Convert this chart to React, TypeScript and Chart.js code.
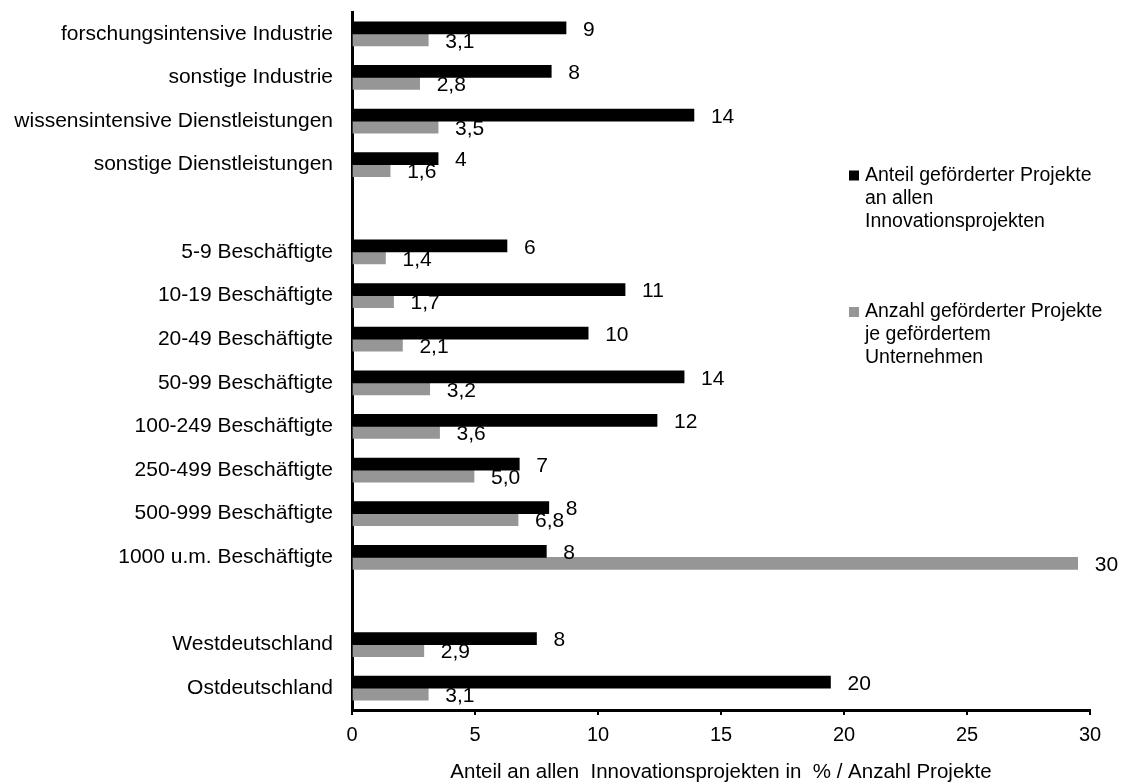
import React, { useEffect, useRef } from "react";
import { Chart, registerables } from "chart.js";

Chart.register(...registerables);

const FONT = '"Liberation Sans", Arial, Helvetica, sans-serif';

const categories: string[] = [
  "forschungsintensive Industrie",
  "sonstige Industrie",
  "wissensintensive Dienstleistungen",
  "sonstige Dienstleistungen",
  "",
  "5-9 Beschäftigte",
  "10-19 Beschäftigte",
  "20-49 Beschäftigte",
  "50-99 Beschäftigte",
  "100-249 Beschäftigte",
  "250-499 Beschäftigte",
  "500-999 Beschäftigte",
  "1000 u.m. Beschäftigte",
  "",
  "Westdeutschland",
  "Ostdeutschland",
];

// Anteil geförderter Projekte an allen Innovationsprojekten (%)
const shareValues: (number | null)[] = [
  8.7, 8.1, 13.9, 3.5, null, 6.3, 11.1, 9.6, 13.5, 12.4, 6.8, 8.0, 7.9, null, 7.5, 19.45,
];
const shareLabels: string[] = [
  "9", "8", "14", "4", "", "6", "11", "10", "14", "12", "7", "8", "8", "", "8", "20",
];

// Anzahl geförderter Projekte je gefördertem Unternehmen
const countValues: (number | null)[] = [
  3.1, 2.75, 3.5, 1.55, null, 1.36, 1.69, 2.05, 3.16, 3.56, 4.96, 6.75, 29.5, null, 2.92, 3.1,
];
const countLabels: string[] = [
  "3,1", "2,8", "3,5", "1,6", "", "1,4", "1,7", "2,1", "3,2", "3,6", "5,0", "6,8", "30", "", "2,9", "3,1",
];

const seriesNames: string[][] = [
  ["Anteil geförderter Projekte", "an allen", "Innovationsprojekten"],
  ["Anzahl geförderter Projekte", "je gefördertem", "Unternehmen"],
];

const xTitle = "Anteil an allen  Innovationsprojekten in  % / Anzahl Projekte";

const BLACK = "#000000";
const GREY = "#969696";

const valueLabelsPlugin = {
  id: "valueLabels",
  afterDatasetsDraw(chart: any) {
    const ctx = chart.ctx;
    ctx.save();
    ctx.font = `21px ${FONT}`;
    ctx.fillStyle = "#000";
    ctx.textAlign = "left";
    ctx.textBaseline = "middle";
    const allLabels = [shareLabels, countLabels];
    chart.data.datasets.forEach((ds: any, di: number) => {
      const meta = chart.getDatasetMeta(di);
      meta.data.forEach((el: any, i: number) => {
        if (ds.data[i] == null) return;
        ctx.fillText(allLabels[di][i], el.x + 17, el.y + 2);
      });
    });
    ctx.restore();
  },
};

const customLegendPlugin = {
  id: "customLegend",
  afterDraw(chart: any) {
    const ctx = chart.ctx;
    ctx.save();
    ctx.font = `19.5px ${FONT}`;
    ctx.fillStyle = "#000";
    ctx.textAlign = "left";
    ctx.textBaseline = "middle";
    const colors = [BLACK, GREY];
    const tops = [175.5, 312];
    seriesNames.forEach((lines, k) => {
      ctx.fillStyle = colors[k];
      ctx.fillRect(849, tops[k] - 5, 10, 10);
      ctx.fillStyle = "#000";
      lines.forEach((line, j) => {
        ctx.fillText(line, 865, tops[k] + j * 23);
      });
    });
    ctx.restore();
  },
};

export default function App() {
  const canvasRef = useRef<HTMLCanvasElement | null>(null);

  useEffect(() => {
    if (!canvasRef.current) return;
    const chart = new Chart(canvasRef.current, {
      type: "bar",
      data: {
        labels: categories,
        datasets: [
          {
            label: seriesNames[0].join(" "),
            data: shareValues,
            backgroundColor: BLACK,
            barThickness: 12,
          },
          {
            label: seriesNames[1].join(" "),
            data: countValues,
            backgroundColor: GREY,
            barThickness: 12,
          },
        ],
      },
      options: {
        indexAxis: "y",
        responsive: false,
        animation: false,
        devicePixelRatio: 1,
        layout: { padding: { top: 12, right: 31, left: 0, bottom: 0 } },
        plugins: {
          legend: { display: false },
          tooltip: { enabled: false },
        },
        scales: {
          y: {
            type: "category",
            grid: { display: false, drawTicks: false },
            border: { display: true, color: "#000", width: 3 },
            ticks: {
              color: "#000",
              font: { family: FONT, size: 21 },
              padding: 19,
              autoSkip: false,
            },
            afterFit(scale: any) {
              scale.width = 352;
              scale.paddingTop = 0;
              scale.paddingBottom = 0;
            },
          },
          x: {
            type: "linear",
            min: 0,
            max: 30,
            grid: {
              drawOnChartArea: false,
              drawTicks: true,
              tickLength: 5,
              color: "#000",
              lineWidth: 2,
            },
            border: { display: true, color: "#000", width: 3 },
            ticks: {
              stepSize: 5,
              color: "#000",
              font: { family: FONT, size: 20 },
              padding: 8,
            },
            title: {
              display: true,
              text: xTitle,
              color: "#000",
              font: { family: FONT, size: 20.5 },
              padding: { top: 0, bottom: -1 },
            },
            afterFit(scale: any) {
              scale.height = 74;
              scale.paddingLeft = 0;
              scale.paddingRight = 0;
            },
          },
        },
      },
      plugins: [valueLabelsPlugin, customLegendPlugin],
    });
    return () => chart.destroy();
  }, []);

  return (
    <div style={{ position: "absolute", left: 0, top: 0, width: 1121, height: 784, background: "#fff" }}>
      <canvas ref={canvasRef} width={1121} height={784} />
    </div>
  );
}
